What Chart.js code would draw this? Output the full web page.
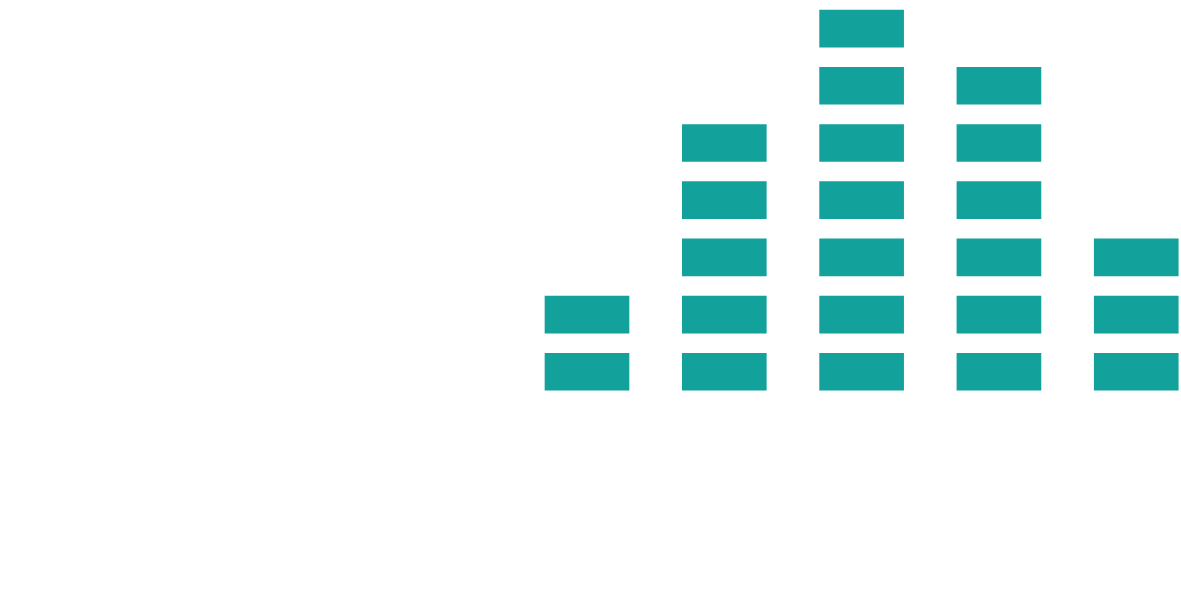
<!DOCTYPE html>
<html>
<head>
<meta charset="utf-8">
<title>Block chart</title>
<script src="https://cdn.jsdelivr.net/npm/chart.js@4/dist/chart.umd.min.js"></script>
<style>
  html, body { margin: 0; padding: 0; background: #fff; }
  #wrap { width: 1181px; height: 593px; position: relative; }
</style>
</head>
<body>
<div id="wrap"><canvas id="blockChart"></canvas></div>
<script>
// Sarakkeet ja niiden lohkojen määrät
const columns = [0, 1, 2, 3, 4, 5, 6, 7, 8];
const counts = [0, 0, 0, 0, 2, 5, 7, 6, 3];

// Ulkoasu
const BLOCK_COLOR = '#13a19b';
const BLOCK_FILL = 0.647; // osuus yhden lohkon korkeudesta
const maxCount = Math.max(...counts);

// Yksi datasetti per kerros, jokainen lohko on kelluva pylväs
const datasets = [];
for (let level = 0; level < maxCount; level++) {
  datasets.push({
    label: 'Taso ' + (level + 1),
    data: columns
      .filter((c, i) => counts[i] > level)
      .map(c => ({ x: c, y: [level, level + BLOCK_FILL] })),
    backgroundColor: BLOCK_COLOR,
    borderWidth: 0,
    barThickness: 84,
    grouped: false
  });
}

new Chart(document.getElementById('blockChart'), {
  type: 'bar',
  data: { datasets },
  options: {
    responsive: true,
    maintainAspectRatio: false,
    animation: false,
    layout: { padding: 0 },
    plugins: {
      legend: { display: false },
      tooltip: { enabled: false }
    },
    scales: {
      x: { type: 'linear', min: -0.275, max: 8.326, offset: false, grid: { offset: false }, display: false },
      y: { min: -3.544, max: 6.823, display: false }
    }
  }
});
</script>
</body>
</html>
